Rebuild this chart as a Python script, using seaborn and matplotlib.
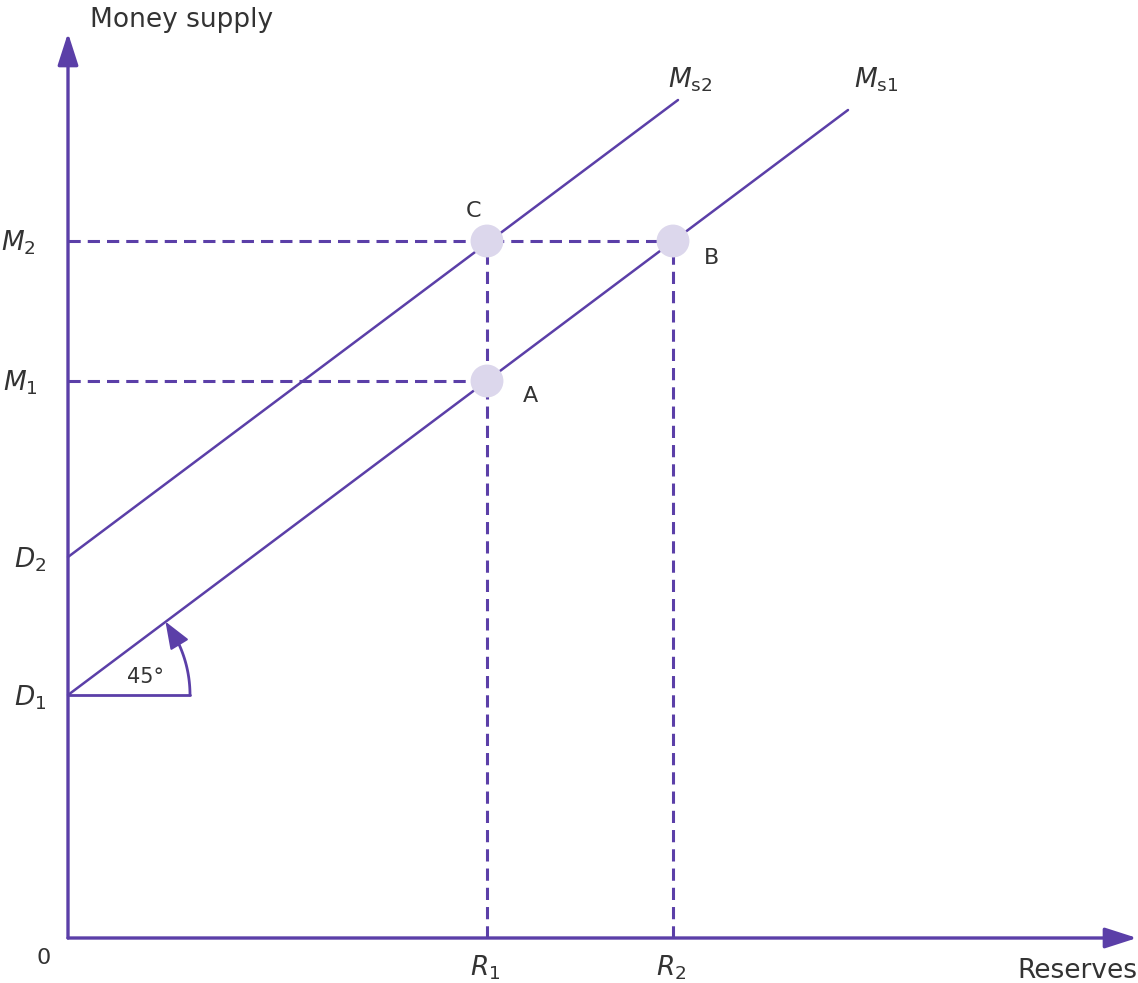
import numpy as np
import pandas as pd
import matplotlib
matplotlib.use("Agg")
import matplotlib.pyplot as plt
import seaborn as sns

# ---- data (diagram units: origin at the axes corner) ----
d1 = 243          # intercept of Ms1
d2 = 381          # intercept of Ms2
r1 = 419          # reserves R1
r2 = 605          # reserves R2
m1 = 557          # money supply M1
m2 = 697          # money supply M2
ms1_x = [0, 780]
ms1_y = [243, 828]
ms2_x = [0, 610]
ms2_y = [381, 838]
pt_names = ["A", "B", "C"]
pt_x = [419, 605, 419]
pt_y = [557, 697, 697]
angle_deg = 37      # visual angle of the drawn line (labelled 45°)

PURPLE = "#5b3fa8"
DOT = "#dcd7ec"
TXT = "#333333"

sns.set_theme(style="white")
plt.rcParams["font.family"] = ["DejaVu Sans"]
plt.rcParams["mathtext.fontset"] = "dejavusans"

fig = plt.figure(figsize=(11.38, 9.83), dpi=100)
ax = fig.add_axes([0, 0, 1, 1])
ax.set_xlim(-68, 1070)
ax.set_ylim(-45, 938)
ax.axis("off")

# axes arrows
ax.annotate("", xy=(0, 905), xytext=(0, 0),
            arrowprops=dict(arrowstyle="-|>,head_length=1.4,head_width=0.45",
                            color=PURPLE, lw=2.4, shrinkA=0, shrinkB=0, mutation_scale=14))
ax.annotate("", xy=(1069, 0), xytext=(0, 0),
            arrowprops=dict(arrowstyle="-|>,head_length=1.4,head_width=0.45",
                            color=PURPLE, lw=2.4, shrinkA=0, shrinkB=0, mutation_scale=14))

# dashed guides
dash = dict(color=PURPLE, lw=2.2, ls=(0, (4, 2.3)))
ax.plot([0, pt_x[1]], [m2, m2], **dash)
ax.plot([0, pt_x[0]], [m1, m1], **dash)
ax.plot([r1, r1], [0, m2], **dash)
ax.plot([r2, r2], [0, m2], **dash)

# supply lines
lines = pd.DataFrame({
    "x": ms1_x + ms2_x,
    "y": ms1_y + ms2_y,
    "curve": ["Ms1"] * 2 + ["Ms2"] * 2,
})
sns.lineplot(data=lines, x="x", y="y", units="curve", estimator=None,
             color=PURPLE, lw=1.8, ax=ax, legend=False, sort=False)

# points
pts = pd.DataFrame({"x": pt_x, "y": pt_y, "name": pt_names})
sns.scatterplot(data=pts, x="x", y="y", s=560, color=DOT, edgecolor="none",
                ax=ax, legend=False, zorder=5)

# 45 degree marker
rad = 122
ax.plot([0, rad], [d1, d1], color=PURPLE, lw=2.0)
th = np.linspace(0, np.deg2rad(angle_deg) - 0.1, 40)
ax.plot(rad * np.cos(th), d1 + rad * np.sin(th), color=PURPLE, lw=2.0)
ta = np.deg2rad(angle_deg)
tb = np.deg2rad(angle_deg) - 0.2
ax.annotate("", xy=(rad * np.cos(ta), d1 + rad * np.sin(ta)),
            xytext=(rad * np.cos(tb), d1 + rad * np.sin(tb)),
            arrowprops=dict(arrowstyle="-|>,head_length=1.3,head_width=0.5",
                            color=PURPLE, lw=1.5, shrinkA=0, shrinkB=0, mutation_scale=13))
ax.text(78, 261, "45°", fontsize=15, color=TXT, ha="center", va="center")

# text labels
fs = 19
ax.text(22, 918, "Money supply", fontsize=fs, color=TXT, ha="left", va="center")
ax.text(1069, -33, "Reserves", fontsize=fs, color=TXT, ha="right", va="center")
ax.text(-24, -20, "0", fontsize=16, color=TXT, ha="center", va="center")
ax.text(-50, m2 - 2, r"$M_2$", fontsize=fs, color=TXT, ha="center", va="center")
ax.text(-48, m1 - 2, r"$M_1$", fontsize=fs, color=TXT, ha="center", va="center")
ax.text(-38, d2 - 3, r"$D_2$", fontsize=fs, color=TXT, ha="center", va="center")
ax.text(-38, d1 - 3, r"$D_1$", fontsize=fs, color=TXT, ha="center", va="center")
ax.text(r1 - 2, -30, r"$R_1$", fontsize=fs, color=TXT, ha="center", va="center")
ax.text(r2 - 2, -30, r"$R_2$", fontsize=fs, color=TXT, ha="center", va="center")
ax.text(622, 858, r"$M_{\mathrm{s2}}$", fontsize=fs, color=TXT, ha="center", va="center")
ax.text(808, 858, r"$M_{\mathrm{s1}}$", fontsize=fs, color=TXT, ha="center", va="center")
ax.text(406, 727, "C", fontsize=16, color=TXT, ha="center", va="center")
ax.text(644, 680, "B", fontsize=16, color=TXT, ha="center", va="center")
ax.text(462, 542, "A", fontsize=16, color=TXT, ha="center", va="center")

fig.savefig("out.png", dpi=100)
